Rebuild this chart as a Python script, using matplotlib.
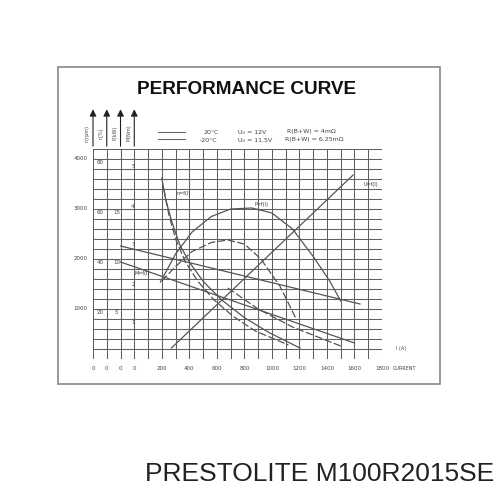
import matplotlib.pyplot as plt
from matplotlib.patches import Rectangle

# x: current (A), y: speed (rpm) scale of the chart grid
current_ticks = [200, 400, 600, 800, 1000, 1200, 1400, 1600, 1800]
rpm_ticks = [1000, 2000, 3000, 4000]
pct_ticks = [20, 40, 60, 80]          # efficiency column
kw_ticks = [5, 10, 15]                # power column
nm_ticks = [1, 2, 3, 4, 5]            # torque column

# speed n=f(I)
n_20_x = [200, 229, 273, 331, 404, 505, 636, 804, 985, 1204]
n_20_y = [3620, 3180, 2740, 2280, 1920, 1540, 1180, 820, 520, 220]
n_m20_x = [215, 250, 300, 370, 460, 580, 720, 880, 1120]
n_m20_y = [3400, 2900, 2400, 1950, 1560, 1180, 850, 560, 280]

# efficiency / power P=f(I)
p_20_x = [190, 300, 420, 560, 700, 855, 1000, 1150, 1300, 1420, 1500]
p_20_y = [1540, 2100, 2540, 2850, 3000, 3020, 2920, 2600, 2050, 1560, 1160]
p_m20_x = [200, 300, 420, 560, 680, 800, 920, 1060, 1180]
p_m20_y = [1560, 1850, 2150, 2330, 2380, 2300, 2000, 1450, 780]

# voltage / torque lines
u_20_x = [-100, 1640]
u_20_y = [2260, 1100]
u_m20_x = [-100, 1600]
u_m20_y = [1940, 320]
m_x = [270, 1590]
m_y = [220, 3680]
m_m20_x = [680, 900, 1150, 1500]
m_m20_y = [1420, 1000, 640, 260]

fig = plt.figure(figsize=(5, 5), dpi=100)
fig.patches.append(Rectangle((58 / 500, 1 - 384 / 500), 382 / 500, 317 / 500,
                             transform=fig.transFigure, fill=False,
                             edgecolor='#888888', lw=1.2))

ax = fig.add_axes([0.186, 0.282, 0.578, 0.42])
ax.set_xlim(-300, 1800)
ax.set_ylim(0, 4200)
for x in range(-300, 1801, 100):
    ax.axvline(x, color='#606060', lw=0.75)
for y in range(0, 4201, 200):
    ax.axhline(y, color='#606060', lw=0.75)
for s in ax.spines.values():
    s.set_visible(False)
ax.set_xticks([])
ax.set_yticks([])

lc = '#555555'
ax.plot(n_20_x, n_20_y, color=lc, lw=0.9)
ax.plot(n_m20_x, n_m20_y, color=lc, lw=0.9, ls=(0, (6, 2)))
ax.plot(p_20_x, p_20_y, color=lc, lw=0.9)
ax.plot(p_m20_x, p_m20_y, color=lc, lw=0.9, ls=(0, (6, 2)))
ax.plot(u_20_x, u_20_y, color=lc, lw=0.9)
ax.plot(u_m20_x, u_m20_y, color=lc, lw=0.9)
ax.plot(m_x, m_y, color=lc, lw=0.9)
ax.plot(m_m20_x, m_m20_y, color=lc, lw=0.9, ls=(0, (6, 2)))

fs = 4
for c in current_ticks:
    ax.text(c, -150, str(c), fontsize=fs, ha='center', va='top', color='#444444')
for x in [-300, -200, -100, 0]:
    ax.text(x, -150, '0', fontsize=fs, ha='center', va='top', color='#444444')
    ax.annotate('', xy=(x, 5050), xytext=(x, 4200),
                arrowprops=dict(arrowstyle='-|>', color='#222222', lw=0.8),
                annotation_clip=False)
for r in rpm_ticks:
    ax.text(-340, r, str(r), fontsize=fs, ha='right', va='center', color='#444444')
for p, r in zip(pct_ticks, rpm_ticks):
    ax.text(-250, r - 60, str(p), fontsize=fs, ha='center', va='center', color='#444444')
for k, r in zip(kw_ticks, rpm_ticks[:3]):
    ax.text(-130, r - 60, str(k), fontsize=fs, ha='center', va='center', color='#444444')
for t in nm_ticks:
    ax.text(-10, t * 780 - 60, str(t), fontsize=fs, ha='center', va='center', color='#444444')

axis_names = ['n(rpm)', 'η(%)', 'P(kW)', 'M(Nm)']
for x, name in zip([-300, -200, -100, 0], axis_names):
    ax.text(x - 40, 4520, name, fontsize=3.5, rotation=90, ha='center',
            va='center', color='#444444', clip_on=False)

ax.text(310, 3280, 'n=f(I)', fontsize=3.5, color='#333333')
ax.text(870, 3060, 'P=f(I)', fontsize=3.5, color='#333333')
ax.text(1670, 3460, 'U=f(I)', fontsize=3.5, color='#333333')
ax.text(0, 1680, 'M=f(I)', fontsize=3.5, color='#333333')
ax.text(1900, 180, 'I (A)', fontsize=3.5, color='#444444', clip_on=False)
ax.text(1880, -230, 'CURRENT', fontsize=3.5, color='#444444', clip_on=False)

# legend header
fig.lines.append(plt.Line2D([158 / 500, 185 / 500], [1 - 132 / 500] * 2,
                            transform=fig.transFigure, color='#666666', lw=0.8))
fig.lines.append(plt.Line2D([158 / 500, 185 / 500], [1 - 139 / 500] * 2,
                            transform=fig.transFigure, color='#666666', lw=0.8))
hdr = dict(fontsize=4.5, color='#444444', va='center')
fig.text(203 / 500, 1 - 132 / 500, '20°C', **hdr)
fig.text(200 / 500, 1 - 140 / 500, '-20°C', **hdr)
fig.text(238 / 500, 1 - 132 / 500, 'U₀ = 12V', **hdr)
fig.text(238 / 500, 1 - 140 / 500, 'U₀ = 11.5V', **hdr)
fig.text(287 / 500, 1 - 132 / 500, 'R(B+W) = 4mΩ', **hdr)
fig.text(285 / 500, 1 - 140 / 500, 'R(B+W) = 6.25mΩ', **hdr)

fig.text(247 / 500, 1 - 90 / 500, 'PERFORMANCE CURVE', fontsize=13.7,
         fontweight='bold', family='Liberation Sans', ha='center', va='center',
         color='#111111')
fig.text(494 / 500, 1 - 474 / 500, 'PRESTOLITE M100R2015SE', fontsize=19,
         family='Liberation Sans', ha='right', va='center', color='#222222')

fig.savefig('out.png', dpi=100)
